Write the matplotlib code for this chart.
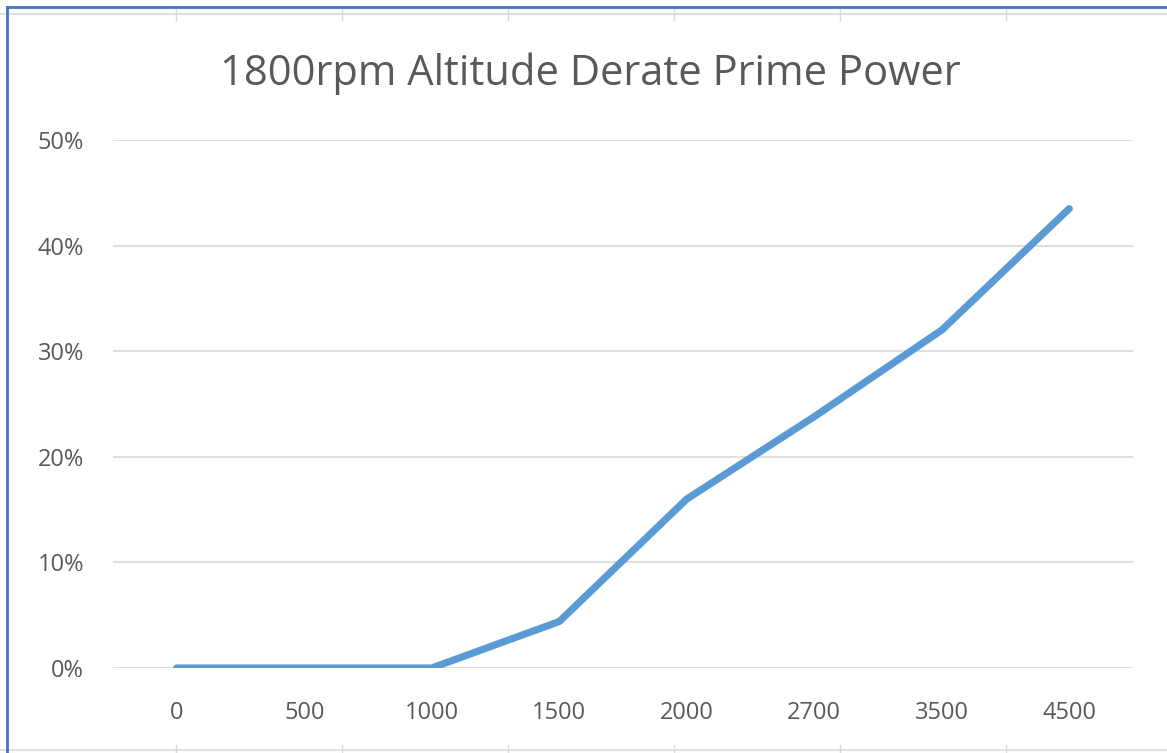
import matplotlib.pyplot as plt
from matplotlib.lines import Line2D

altitude = ["0", "500", "1000", "1500", "2000", "2700", "3500", "4500"]
derate = [0.0, 0.0, 0.0, 0.044, 0.160, 0.238, 0.320, 0.435]
y_ticks = [0.0, 0.1, 0.2, 0.3, 0.4, 0.5]

plt.rcParams['font.family'] = ['Open Sans', 'DejaVu Sans']

fig = plt.figure(figsize=(11.67, 7.53), dpi=100)
ax = fig.add_axes([113 / 1167, 1 - 668 / 753, 1020 / 1167, 528 / 753])

x = list(range(len(altitude)))
ax.plot(x, derate, color="#5B9BD5", linewidth=5.2, solid_capstyle="round",
        solid_joinstyle="round", zorder=3)

ax.set_xlim(-0.5, len(altitude) - 0.5)
ax.set_ylim(0, 0.5)
ax.set_yticks(y_ticks)
ax.set_yticklabels([f"{int(round(v * 100))}%" for v in y_ticks])
ax.set_xticks(x)
ax.set_xticklabels(altitude)
ax.grid(axis="y", color="#D9D9D9", linewidth=1.2)
ax.set_axisbelow(True)
for s in ax.spines.values():
    s.set_visible(False)
ax.tick_params(length=0, labelsize=17, labelcolor="#595959")
ax.tick_params(axis="y", pad=21)
ax.tick_params(axis="x", pad=24)

fig.text(590 / 1167, 1 - 74 / 753, "1800rpm Altitude Derate Prime Power",
         ha="center", va="center", fontsize=30, color="#595959")

# spreadsheet cell lines behind the chart and the selection border
for yy in (14, 750):
    fig.add_artist(Line2D([0, 1], [1 - yy / 753] * 2, color="#DADADA", lw=1.2))
for xx in (176, 342, 508, 674, 840, 1006):
    fig.add_artist(Line2D([xx / 1167] * 2, [1 - 8 / 753, 1 - 20 / 753], color="#DADADA", lw=1))
    fig.add_artist(Line2D([xx / 1167] * 2, [1 - 745 / 753, 0], color="#DADADA", lw=1))
fig.add_artist(Line2D([7 / 1167, 1], [1 - 7 / 753] * 2, color="#4472C4", lw=2))
fig.add_artist(Line2D([7 / 1167] * 2, [0, 1 - 7 / 753], color="#4472C4", lw=2))

fig.savefig("out.png", dpi=100)
